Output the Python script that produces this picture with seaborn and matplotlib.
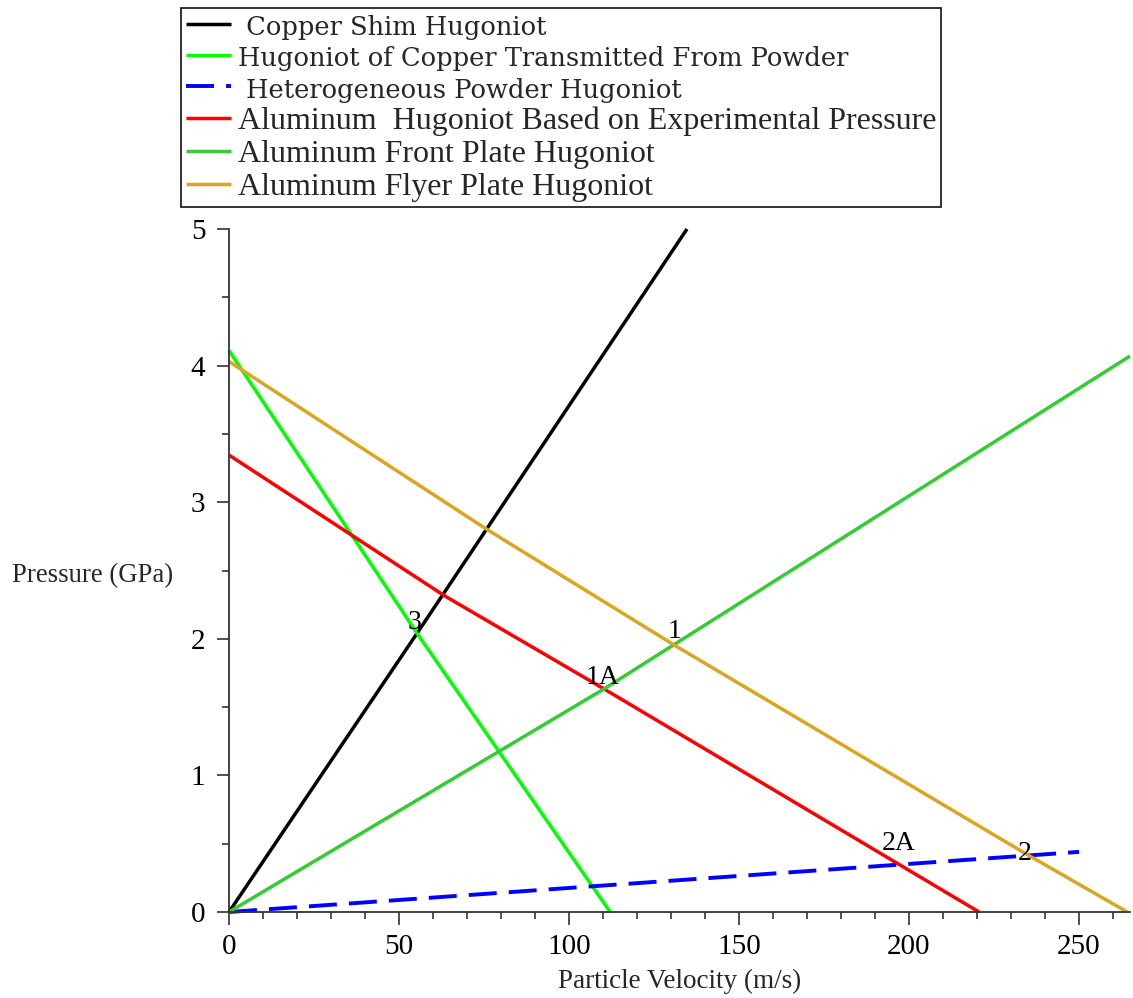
import matplotlib
matplotlib.use("Agg")
import matplotlib.pyplot as plt
from matplotlib.ticker import MultipleLocator
import seaborn as sns
import pandas as pd

# Particle velocity (m/s) and pressure (GPa) along each Hugoniot
cu_shim_u = [0.0, 55.3, 134.7]
cu_shim_p = [0.0, 2.04, 5.0]

cu_trans_u = [0.0, 55.3, 112.1]
cu_trans_p = [4.11, 2.04, 0.0]

powder_u = [0.0, 250.0]
powder_p = [0.0, 0.44]

al_exp_u = [0.0, 63.5, 110.3, 220.6]
al_exp_p = [3.345, 2.313, 1.633, 0.0]

al_front_u = [0.0, 110.3, 265.0]
al_front_p = [0.0, 1.633, 4.07]

al_flyer_u = [0.0, 75.9, 130.9, 234.1, 264.2]
al_flyer_p = [4.03, 2.80, 1.955, 0.43, 0.0]

series_labels = [
    " Copper Shim Hugoniot",
    "Hugoniot of Copper Transmitted From Powder",
    " Heterogeneous Powder Hugoniot",
    "Aluminum  Hugoniot Based on Experimental Pressure",
    "Aluminum Front Plate Hugoniot",
    "Aluminum Flyer Plate Hugoniot",
]
series_colors = ["#000000", "#00FF00", "#0000FF", "#FF0000", "#32CD32", "#DAA520"]

# State points marked on the chart
point_names = ["3", "1", "1A", "2A", "2"]
point_u = [54.7, 130.9, 110.0, 197.0, 234.0]
point_p = [2.12, 2.05, 1.72, 0.505, 0.43]

sns.set_theme(style="white")
plt.rcParams["font.family"] = ["Liberation Serif", "DejaVu Serif"]

fig = plt.figure(figsize=(11.33, 9.98), dpi=100)
ax = fig.add_axes([229 / 1133, 1 - 912 / 998, 901 / 1133, 683 / 998])

curves = [
    (cu_shim_u, cu_shim_p),
    (cu_trans_u, cu_trans_p),
    (powder_u, powder_p),
    (al_exp_u, al_exp_p),
    (al_front_u, al_front_p),
    (al_flyer_u, al_flyer_p),
]

handles = []
for (u, p), lab, col in zip(curves, series_labels, series_colors):
    df = pd.DataFrame({"u": u, "p": p})
    sns.lineplot(data=df, x="u", y="p", ax=ax, color=col, linewidth=2.5,
                 label=lab, legend=False, estimator=None, sort=False)
    line = ax.get_lines()[-1]
    line.set_clip_on(False)
    line.set_solid_capstyle("butt")
    line.set_solid_joinstyle("round")
    if lab.strip().startswith("Heterogeneous"):
        line.set_linewidth(2.8)
        line.set_dashes((7.2, 3.1))
        line.set_dash_capstyle("butt")
    handles.append(line)

for name, u, p in zip(point_names, point_u, point_p):
    ax.text(u, p, name, ha="center", va="center", fontsize=20,
            family="Liberation Serif", color="black")

ax.set_xlim(0, 265)
ax.set_ylim(0, 5)
ax.xaxis.set_major_locator(MultipleLocator(50))
ax.xaxis.set_minor_locator(MultipleLocator(10))
ax.yaxis.set_major_locator(MultipleLocator(1))
ax.yaxis.set_minor_locator(MultipleLocator(0.5))

for side in ("top", "right"):
    ax.spines[side].set_visible(False)
for side in ("left", "bottom"):
    ax.spines[side].set_color("#333333")
    ax.spines[side].set_linewidth(1.3)

ax.tick_params(axis="both", which="major", direction="out", length=9,
               width=1.2, color="#333333", labelsize=21, labelcolor="black",
               bottom=True, left=True)
ax.tick_params(axis="both", which="minor", direction="out", length=5,
               width=1.2, color="#333333", bottom=True, left=True)
ax.tick_params(axis="x", which="major", pad=7)
ax.tick_params(axis="y", which="major", pad=8)
for t in ax.get_xticklabels() + ax.get_yticklabels():
    t.set_family("Liberation Serif")

ax.set_xlabel("Particle Velocity (m/s)", fontsize=19.5, family="Liberation Serif",
              labelpad=6)
ax.set_ylabel("Pressure (GPa)", fontsize=19.3, family="Liberation Serif",
              rotation=0, ha="left", va="center")
ax.yaxis.set_label_coords(-0.241, 0.493)
ax.grid(False)

leg = fig.legend(handles, series_labels, loc="upper left",
                 bbox_to_anchor=(181 / 1133, 1 - 8 / 998),
                 frameon=True, fancybox=False, framealpha=1,
                 edgecolor="#222222", borderaxespad=0, borderpad=0.15,
                 handlelength=1.42, handletextpad=0.22, labelspacing=0.12,
                 prop={"family": "Liberation Serif", "size": 23})
leg.get_frame().set_linewidth(1.3)
for i, t in enumerate(leg.get_texts()):
    if i < 3:
        t.set_family("DejaVu Serif")
        t.set_fontsize(18.5)

fig.savefig("out.png", dpi=100, facecolor="white")
